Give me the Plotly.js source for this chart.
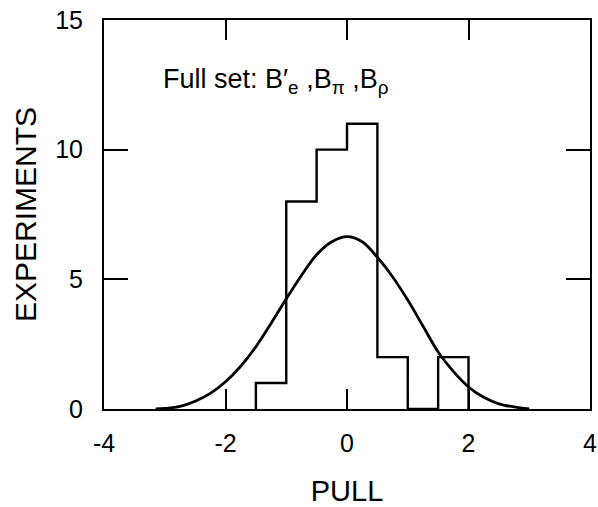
<!DOCTYPE html>
<html>
<head>
<meta charset="utf-8">
<script src="https://cdn.plot.ly/plotly-3.0.1.min.js"></script>
<style>html,body{margin:0;padding:0;background:#fff;}#chart{width:598px;height:507px;}</style>
</head>
<body>
<div id="chart"></div>
<script>
// Histogram of pulls: bin edges and counts
var binEdges = [-1.5, -1.0, -0.5, 0.0, 0.5, 1.0, 1.5, 2.0];
var binCounts = [1, 8, 10, 11, 2, 0, 2];

// Gaussian curve
var curveX = [-3.15, -3.0, -2.75, -2.5, -2.25, -2.0, -1.75, -1.5, -1.25, -1.0, -0.75, -0.5, -0.25, 0.0, 0.25, 0.5, 0.75, 1.0, 1.25, 1.5, 1.75, 2.0, 2.25, 2.5, 2.75, 3.0];
var curveY = [0.0, 0.02, 0.1, 0.3, 0.6, 1.05, 1.65, 2.4, 3.3, 4.25, 5.15, 5.95, 6.45, 6.65, 6.45, 5.85, 5.1, 4.2, 3.2, 2.2, 1.45, 0.85, 0.45, 0.2, 0.08, 0.0];

var xTicks = [-4, -2, 0, 2, 4];
var yTicks = [0, 5, 10, 15];

// step outline built from edges/counts
var stepX = [binEdges[0]].concat(binEdges);
var stepY = [0].concat(binCounts).concat([0]);

var FONT = 'Liberation Sans, Arial, Helvetica, sans-serif';

var traces = [
  {x: stepX, y: stepY, type: 'scatter', mode: 'lines', line: {shape: 'hv', color: '#000', width: 2.4}, hoverinfo: 'skip'},
  {x: curveX, y: curveY, type: 'scatter', mode: 'lines', line: {shape: 'spline', smoothing: 1, color: '#000', width: 2.8}, hoverinfo: 'skip'}
];

var layout = {
  width: 598, height: 507,
  margin: {l: 104, r: 8, t: 20, b: 98},
  paper_bgcolor: '#fff', plot_bgcolor: '#fff',
  showlegend: false,
  font: {family: FONT, color: '#000'},
  xaxis: {
    range: [-4, 4], tickvals: xTicks, ticktext: xTicks.map(String),
    showgrid: false, zeroline: false, showline: true, mirror: 'ticks',
    linecolor: '#000', linewidth: 2, ticks: 'inside', ticklen: 20, tickwidth: 2, tickcolor: '#000',
    tickfont: {size: 25, family: FONT}, ticklabelstandoff: 11,
    title: {text: 'PULL', font: {size: 29, family: FONT}, standoff: 26},
    automargin: false
  },
  yaxis: {
    range: [0, 15], tickvals: yTicks, ticktext: yTicks.map(String),
    showgrid: false, zeroline: false, showline: true, mirror: 'ticks',
    linecolor: '#000', linewidth: 2, ticks: 'inside', ticklen: 24, tickwidth: 2, tickcolor: '#000',
    tickfont: {size: 25, family: FONT}, ticklabelstandoff: 14,
    title: {text: 'EXPERIMENTS', font: {size: 30, family: FONT}, standoff: 10},
    automargin: false
  },
  annotations: [{
    x: -3.06, y: 12.66, xref: 'x', yref: 'y', xanchor: 'left', yanchor: 'middle',
    showarrow: false,
    text: 'Full set: B′<sub>e</sub> ,B<sub>π</sub> ,B<sub>ρ</sub>',
    font: {size: 27, family: FONT, color: '#000'}
  }]
};

Plotly.newPlot('chart', traces, layout, {displayModeBar: false, staticPlot: true});
</script>
</body>
</html>
